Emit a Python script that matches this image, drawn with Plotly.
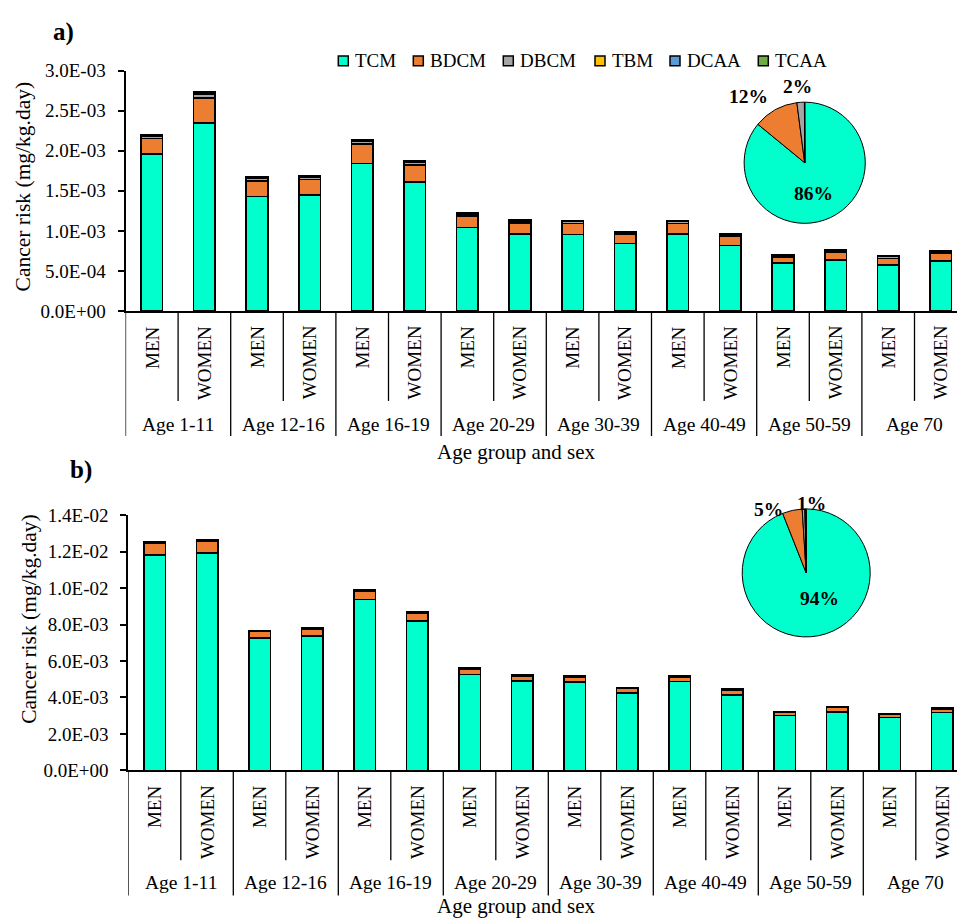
import plotly.graph_objects as go

# ---------------- data ----------------
age_groups = ["Age 1-11", "Age 12-16", "Age 16-19", "Age 20-29",
              "Age 30-39", "Age 40-49", "Age 50-59", "Age 70"]
sexes = ["MEN", "WOMEN"]
compounds = ["TCM", "BDCM", "DBCM", "TBM", "DCAA", "TCAA"]

# a) cancer risk (mg/kg.day), in units of 1E-03, order: MEN, WOMEN per age group
tcm_a = [1.96, 2.345, 1.43, 1.45, 1.84, 1.61, 1.04, 0.96,
         0.955, 0.84, 0.96, 0.82, 0.60, 0.635, 0.575, 0.625]
bdcm_a = [0.19, 0.315, 0.19, 0.19, 0.245, 0.21, 0.145, 0.14,
          0.14, 0.12, 0.135, 0.115, 0.075, 0.095, 0.08, 0.09]
dbcm_a = [0.035, 0.050, 0.038, 0.035, 0.038, 0.035, 0.028, 0.024,
          0.024, 0.021, 0.024, 0.021, 0.021, 0.021, 0.024, 0.024]
tbm_a = [0.003, 0.004, 0.003, 0.003, 0.003, 0.003, 0.002, 0.002,
         0.002, 0.002, 0.002, 0.002, 0.002, 0.002, 0.002, 0.002]
dcaa_a = [0.006, 0.008, 0.007, 0.006, 0.007, 0.006, 0.005, 0.005,
          0.005, 0.004, 0.005, 0.004, 0.004, 0.004, 0.005, 0.005]
tcaa_a = [0.006, 0.008, 0.007, 0.006, 0.007, 0.006, 0.005, 0.004,
          0.004, 0.003, 0.004, 0.003, 0.003, 0.003, 0.004, 0.004]

# b) cancer risk (mg/kg.day), in units of 1E-03
tcm_b = [11.82, 11.93, 7.26, 7.38, 9.38, 8.19, 5.26, 4.89,
         4.85, 4.24, 4.87, 4.14, 3.00, 3.21, 2.89, 3.17]
bdcm_b = [0.63, 0.64, 0.35, 0.38, 0.46, 0.42, 0.30, 0.27,
          0.27, 0.25, 0.25, 0.26, 0.17, 0.23, 0.18, 0.20]
dbcm_b = [0.07, 0.07, 0.05, 0.05, 0.06, 0.05, 0.04, 0.04,
          0.04, 0.035, 0.04, 0.035, 0.03, 0.03, 0.03, 0.03]
tbm_b = [0.005] * 16
dcaa_b = [0.015, 0.015, 0.012, 0.012, 0.014, 0.012, 0.01, 0.01,
          0.01, 0.01, 0.01, 0.01, 0.008, 0.008, 0.008, 0.008]
tcaa_b = [0.012, 0.012, 0.01, 0.01, 0.012, 0.01, 0.008, 0.008,
          0.008, 0.008, 0.008, 0.008, 0.006, 0.006, 0.006, 0.006]

# share of each compound in the total risk (%)
share_a = [86, 12, 2, 0.02, 0.03, 0.02]
share_b = [94, 5, 0.7, 0.05, 0.15, 0.1]

# y axis ticks
yticks_a = [0, 0.5e-3, 1.0e-3, 1.5e-3, 2.0e-3, 2.5e-3, 3.0e-3]
yticks_b = [0, 2e-3, 4e-3, 6e-3, 8e-3, 10e-3, 12e-3, 14e-3]

# ---------------- style ----------------
colors = ["#00FFCC", "#ED7D31", "#A5A5A5", "#FFC000", "#5B9BD5", "#70AD47"]
FONT = "Liberation Serif, Times New Roman, serif"
W, H = 957, 924


def px(x):
    return x / W


def py(y):
    return 1 - y / H


cats = [f"{g} {s}" for g in age_groups for s in sexes]
series_a = [tcm_a, bdcm_a, dbcm_a, tbm_a, dcaa_a, tcaa_a]
series_b = [tcm_b, bdcm_b, dbcm_b, tbm_b, dcaa_b, tcaa_b]

fig = go.Figure()

for name, col, vals in zip(compounds, colors, series_a):
    fig.add_trace(go.Bar(x=cats, y=[v * 1e-3 for v in vals], name=name,
                         marker=dict(color=col, line=dict(color="black", width=1.5)),
                         xaxis="x", yaxis="y", showlegend=False))
for name, col, vals in zip(compounds, colors, series_b):
    fig.add_trace(go.Bar(x=cats, y=[v * 1e-3 for v in vals], name=name,
                         marker=dict(color=col, line=dict(color="black", width=1.5)),
                         xaxis="x2", yaxis="y2", showlegend=False))

# pies: (center x, center y, radius) in pixels
pie_geo = [(804.7, 156.3, 62), (806.2, 576.0, 65.5)]
for shares, (cx, cy, r) in zip([share_a, share_b], pie_geo):
    fig.add_trace(go.Pie(values=shares, labels=compounds, sort=False,
                         direction="clockwise", rotation=0,
                         marker=dict(colors=colors, line=dict(color="black", width=1)),
                         textinfo="none", hoverinfo="label+percent", showlegend=False,
                         domain=dict(x=[px(cx - r), px(cx + r)],
                                     y=[py(cy + r), py(cy - r)])))

axis_common = dict(showline=True, linecolor="black", linewidth=2, mirror=False,
                   showgrid=False, zeroline=False)

fig.update_layout(
    width=W, height=H, margin=dict(l=0, r=0, t=0, b=0),
    paper_bgcolor="white", plot_bgcolor="white",
    barmode="stack", bargap=0.59,
    font=dict(family=FONT, size=19, color="black"),
    xaxis=dict(domain=[px(125.5), 1], range=[-0.5, -0.5 + (W - 125.5) / 52.6],
               showticklabels=False, ticks="", anchor="y", **axis_common),
    yaxis=dict(domain=[py(308), py(62)], range=[0, 3.0e-3], anchor="x",
               tickmode="array", tickvals=yticks_a,
               ticktext=[f"{v:.1E}" for v in yticks_a],
               ticks="outside", ticklen=6, tickwidth=1.5, tickcolor="black",
               ticklabelstandoff=8, tickfont=dict(size=19, family=FONT),
               **axis_common),
    xaxis2=dict(domain=[px(128.3), 1], range=[-0.5, -0.5 + (W - 128.3) / 52.5],
                showticklabels=False, ticks="", anchor="y2", **axis_common),
    yaxis2=dict(domain=[py(778), py(517)], range=[0, 14e-3], anchor="x2",
                tickmode="array", tickvals=yticks_b,
                ticktext=[f"{v:.1E}" for v in yticks_b],
                ticks="outside", ticklen=6, tickwidth=1.5, tickcolor="black",
                ticklabelstandoff=8, tickfont=dict(size=19, family=FONT),
                **axis_common),
)

annotations = []
shapes = []

# category labels and separators under each panel
for xref, base, grp_dy in [("x", 308, 116), ("x2", 778, 115)]:
    for i, c in enumerate(cats):
        sex = sexes[i % 2]
        annotations.append(dict(x=i, y=py(base + 13), xref=xref, yref="paper",
                                text=sex, textangle=-90, showarrow=False,
                                xanchor="center", yanchor="top",
                                font=dict(size=19, family=FONT)))
    for g, grp in enumerate(age_groups):
        annotations.append(dict(x=2 * g + 0.5, y=py(base + grp_dy), xref=xref, yref="paper",
                                text=grp, showarrow=False, xanchor="center",
                                yanchor="middle", font=dict(size=19.5, family=FONT)))
        # short line between MEN and WOMEN
        shapes.append(dict(type="line", xref=xref, yref="paper",
                           x0=2 * g + 0.5, x1=2 * g + 0.5,
                           y0=py(base), y1=py(base + 92),
                           line=dict(color="black", width=1.3)))
        # long line at the left of each age group
        shapes.append(dict(type="line", xref=xref, yref="paper",
                           x0=2 * g - 0.5, x1=2 * g - 0.5,
                           y0=py(base), y1=py(base + 128),
                           line=dict(color="black", width=1.3)))

# axis titles
annotations += [
    dict(x=px(516), y=py(452), xref="paper", yref="paper", text="Age group and sex",
         showarrow=False, xanchor="center", yanchor="middle",
         font=dict(size=21, family=FONT)),
    dict(x=px(516), y=py(917), xref="paper", yref="paper", text="Age group and sex",
         showarrow=False, xanchor="center", yanchor="middle",
         font=dict(size=21, family=FONT)),
    dict(x=px(22.5), y=py(181), xref="paper", yref="paper",
         text="Cancer risk (mg/kg.day)", textangle=-90, showarrow=False,
         xanchor="center", yanchor="middle", font=dict(size=21.5, family=FONT)),
    dict(x=px(29), y=py(623), xref="paper", yref="paper",
         text="Cancer risk (mg/kg.day)", textangle=-90, showarrow=False,
         xanchor="center", yanchor="middle", font=dict(size=21.5, family=FONT)),
    dict(x=px(63), y=py(22), xref="paper", yref="paper", text="<b>a)</b>",
         showarrow=False, xanchor="center", yanchor="middle",
         font=dict(size=25, family=FONT)),
    dict(x=px(81), y=py(471), xref="paper", yref="paper", text="<b>b)</b>",
         showarrow=False, xanchor="center", yanchor="middle",
         font=dict(size=25, family=FONT)),
]

# pie labels: (slice index, label centre in pixels)
pie_label_pos = [
    (share_a, [(0, 813, 188), (1, 748, 89), (2, 797, 78)]),
    (share_b, [(0, 819, 602), (1, 768.5, 511), (2, 811.5, 505)]),
]
for shares, items in pie_label_pos:
    total = sum(shares)
    for idx, x, y in items:
        pct = round(100 * shares[idx] / total)
        annotations.append(dict(x=px(x), y=py(y), xref="paper", yref="paper",
                                text=f"<b>{pct}%</b>", showarrow=False,
                                xanchor="center", yanchor="middle",
                                font=dict(size=19.5, family=FONT)))

# legend row
legend_x = [338.3, 413.3, 503.3, 595.0, 670.0, 758.3]
for name, col, lx in zip(compounds, colors, legend_x):
    shapes.append(dict(type="rect", xref="paper", yref="paper",
                       x0=px(lx), x1=px(lx + 10), y0=py(57), y1=py(47),
                       fillcolor=col, line=dict(color="black", width=1.5)))
    annotations.append(dict(x=px(lx + 14.5), y=py(52), xref="paper", yref="paper",
                            text=name, showarrow=False, xanchor="left",
                            yanchor="middle", font=dict(size=19, family=FONT)))

fig.update_layout(annotations=annotations, shapes=shapes)
fig.write_html("out.html")
